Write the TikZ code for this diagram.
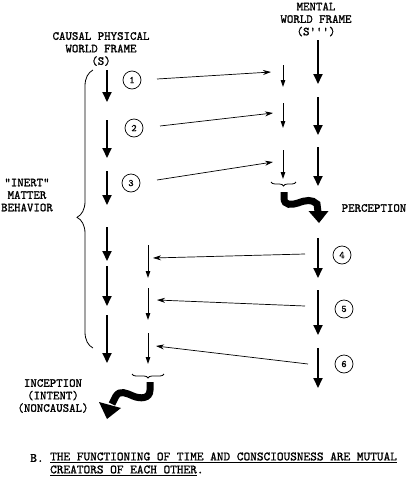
\documentclass[tikz,border=0pt]{standalone}
\usepackage{fontspec}
\newfontfamily\typefont{lmmono10-regular.otf}[RawFeature={embolden=1.2}]
\usetikzlibrary{arrows.meta,decorations.pathreplacing}
\begin{document}
\begin{tikzpicture}[x=1pt,y=-1pt,
  lab/.style={font=\typefont\fontsize{12.3}{12.5}\selectfont,align=center,inner sep=0pt},
  thick arrow/.style={line width=1.8pt,-{Triangle[width=9pt,length=10pt]}},
  thin down/.style={line width=0.9pt,-{Triangle[width=4.5pt,length=7pt]}},
  link/.style={line width=0.7pt,-{Stealth[width=5pt,length=8pt]}},
  num/.style={circle,draw,line width=0.7pt,minimum size=18pt,inner sep=0pt,font=\typefont\fontsize{10}{10}\selectfont},
  snake/.style={line width=7pt},
  snakehead/.style={fill=black},
  brc/.style={decorate,line width=0.8pt}
]
\useasboundingbox (0,0) rectangle (413,480);
% labels
\node[lab] (phys) at (101,49) {CAUSAL PHYSICAL\\WORLD FRAME\\(S)};
\node[lab] (ment) at (316,19.5) {MENTAL\\WORLD FRAME\\(S''')};
\node[lab] (inert) at (27,195) {"INERT"\\MATTER\\BEHAVIOR};
\node[lab] (perc) at (374,208) {PERCEPTION};
\node[lab] (incep) at (53,396) {INCEPTION\\(INTENT)\\(NONCAUSAL)};
% physical thick column
\coordinate (p1a) at (107,70); \coordinate (p1b) at (107,102);
\coordinate (p2a) at (107,120); \coordinate (p2b) at (107,158);
\coordinate (p3a) at (107,171); \coordinate (p3b) at (107,205);
\coordinate (p4a) at (107,227); \coordinate (p4b) at (107,261);
\coordinate (p5a) at (107,266); \coordinate (p5b) at (107,306);
\coordinate (p6a) at (107,315); \coordinate (p6b) at (107,363);
\foreach \i in {1,...,6} \draw[thick arrow] (p\i a) -- (p\i b);
% mental thick column
\coordinate (m1a) at (318,40); \coordinate (m1b) at (318,84);
\coordinate (m2a) at (318,97); \coordinate (m2b) at (318,135);
\coordinate (m3a) at (318,147); \coordinate (m3b) at (318,186);
\coordinate (m4a) at (318,238); \coordinate (m4b) at (318,278);
\coordinate (m5a) at (318,290); \coordinate (m5b) at (318,335);
\coordinate (m6a) at (318,348); \coordinate (m6b) at (318,388);
\foreach \i in {1,...,6} \draw[thick arrow] (m\i a) -- (m\i b);
% mental thin column
\coordinate (t1a) at (283,65); \coordinate (t1b) at (283,87);
\coordinate (t2a) at (283,103); \coordinate (t2b) at (283,128);
\coordinate (t3a) at (283,150); \coordinate (t3b) at (283,179);
\foreach \i in {1,2,3} \draw[thin down] (t\i a) -- (t\i b);
% physical thin column
\coordinate (s4a) at (148,245); \coordinate (s4b) at (148,278);
\coordinate (s5a) at (148,288); \coordinate (s5b) at (148,320);
\coordinate (s6a) at (148,333); \coordinate (s6b) at (148,364);
\foreach \i in {4,5,6} \draw[thin down] (s\i a) -- (s\i b);
% numbers
\node[num] (n1) at (132,80) {1};
\node[num] (n2) at (134,128) {2};
\node[num] (n3) at (131,183) {3};
\node[num] (n4) at (342,255) {4};
\node[num] (n5) at (344,309) {5};
\node[num] (n6) at (344,364) {6};
% links
\coordinate (l1a) at (157,79); \coordinate (l1b) at (271,72);
\coordinate (l2a) at (160,126); \coordinate (l2b) at (273,113);
\coordinate (l3a) at (157,180); \coordinate (l3b) at (273,162);
\coordinate (l4a) at (305,254); \coordinate (l4b) at (153,258);
\coordinate (l5a) at (305,306); \coordinate (l5b) at (157,300);
\coordinate (l6a) at (308,364); \coordinate (l6b) at (156,346);
\foreach \i in {1,...,6} \draw[link] (l\i a) -- (l\i b);
% braces
\draw[brc,decoration={brace,amplitude=16pt,aspect=0.47}] (93,348) -- (93,70);
\draw[brc,decoration={brace,amplitude=4pt}] (296,182) -- (271,182);
\draw[brc,decoration={brace,amplitude=4pt}] (164,374) -- (132,374);
% perception snake
\coordinate (pcs) at (284,192);
\coordinate (pce) at (318,212);
\draw[snake] (pcs) -- (284,198) .. controls (284,206) and (292,205) .. (298,203) .. controls (306,200) and (312,199) .. (317,204) -- (pce);
\fill[snakehead] (308.5,211) -- (328.5,211) -- (319,223) -- cycle;
% inception snake
\coordinate (ics) at (150,382);
\coordinate (ice) at (112,404);
\draw[snake] (ics) -- (150,390) .. controls (150,399) and (140,399) .. (133,396) .. controls (126,393) and (120,390) .. (116,396) -- (ice);
\fill[snakehead] (99,402) -- (121,408) -- (107,419) -- cycle;
% caption
\node[lab,font=\typefont\fontsize{12.7}{13}\selectfont] (capb) at (37,458) {B.};
\node[lab,anchor=west,align=left,font=\typefont\fontsize{12.7}{13}\selectfont] (cap) at (50,464) {\underline{THE FUNCTIONING OF TIME AND CONSCIOUSNESS ARE MUTUAL}\\\underline{CREATORS OF EACH OTHER}.};
\end{tikzpicture}
\end{document}
